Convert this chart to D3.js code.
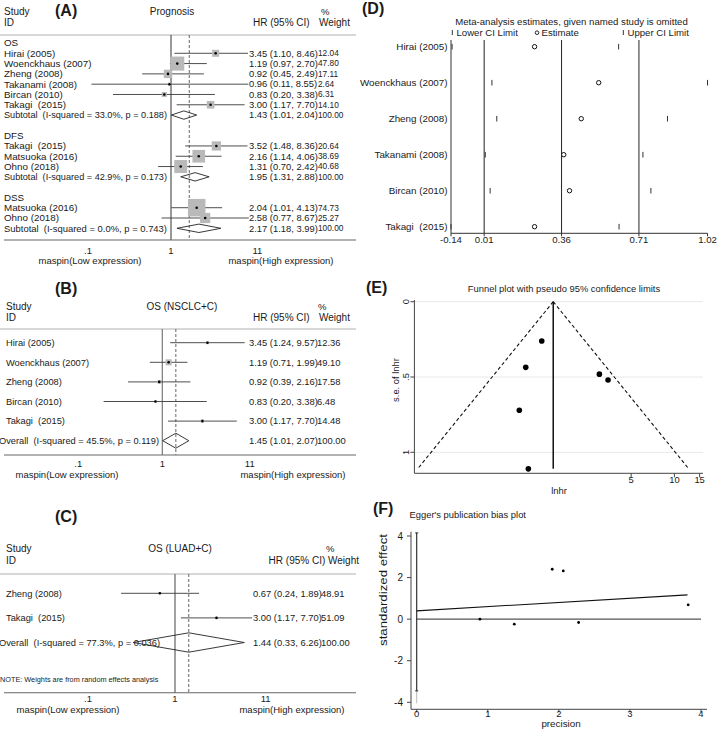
<!DOCTYPE html>
<html><head><meta charset="utf-8">
<script src="https://cdn.jsdelivr.net/npm/d3@7"></script>
<style>
body{margin:0;background:#fff}
svg text{font-family:"Liberation Sans",Arial,Helvetica,sans-serif;fill:#1a1a1a;white-space:pre}
</style></head><body>
<svg id="chart" width="720" height="729"></svg>
<script>
// ---------- Panel A data (Prognosis) ----------
const aLabels = ["OS","Hirai (2005)","Woenckhaus (2007)","Zheng (2008)","Takanami (2008)","Bircan (2010)","Takagi  (2015)","Subtotal  (I-squared = 33.0%, p = 0.188)","","DFS","Takagi  (2015)","Matsuoka (2016)","Ohno (2018)","Subtotal  (I-squared = 42.9%, p = 0.173)","","DSS","Matsuoka (2016)","Ohno (2018)","Subtotal  (I-squared = 0.0%, p = 0.743)"];
const aTypes  = ["group","study","study","study","study","study","study","sub","blank","group","study","study","study","sub","blank","group","study","study","sub"];
const aHR     = [null,3.45,1.19,0.92,0.96,0.83,3.00,1.43,null,null,3.52,2.16,1.31,1.95,null,null,2.04,2.58,2.17];
const aLo     = [null,1.10,0.97,0.45,0.11,0.20,1.17,1.01,null,null,1.48,1.14,0.70,1.31,null,null,1.01,0.77,1.18];
const aHi     = [null,8.46,2.70,2.49,8.55,3.38,7.70,2.04,null,null,8.36,4.06,2.42,2.88,null,null,4.13,8.67,3.99];
const aWeight = [null,12.04,47.80,17.11,2.64,6.31,14.10,100.00,null,null,20.64,38.69,40.68,100.00,null,null,74.73,25.27,100.00];
const aOverall = 1.66;

// ---------- Panel B data (OS NSCLC+C) ----------
const bLabels = ["Hirai (2005)","Woenckhaus (2007)","Zheng (2008)","Bircan (2010)","Takagi  (2015)","Overall  (I-squared = 45.5%, p = 0.119)"];
const bTypes  = ["study","study","study","study","study","sub"];
const bHR     = [3.45,1.19,0.92,0.83,3.00,1.45];
const bLo     = [1.24,0.71,0.39,0.20,1.17,1.01];
const bHi     = [9.57,1.99,2.16,3.38,7.70,2.07];
const bWeight = [12.36,49.10,17.58,6.48,14.48,100.00];

// ---------- Panel C data (OS LUAD+C) ----------
const cLabels = ["Zheng (2008)","Takagi  (2015)","Overall  (I-squared = 77.3%, p = 0.036)"];
const cTypes  = ["study","study","sub"];
const cHR     = [0.67,3.00,1.44];
const cLo     = [0.24,1.17,0.33];
const cHi     = [1.89,7.70,6.26];
const cWeight = [48.91,51.09,100.00];

const forestTicks = [0.1, 1, 11];
const forestTickLabels = [".1", "1", "11"];

// ---------- Panel D data (influence analysis) ----------
const dLabels = ["Hirai (2005)","Woenckhaus (2007)","Zheng (2008)","Takanami (2008)","Bircan (2010)","Takagi  (2015)"];
const dEst = [0.238,0.528,0.449,0.370,0.396,0.238];
const dLo  = [-0.135,0.045,0.067,0.015,0.037,-0.14];
const dHi  = [0.618,1.02,0.839,0.728,0.764,0.620];
const dTicks = [-0.14,0.01,0.36,0.71,1.02];
const dRefLines = [0.01,0.36,0.71];

// ---------- Panel E data (funnel) ----------
const eLnhr = [1.238,0.174,-0.083,-0.041,-0.186,1.099];
const eSe   = [0.520,0.261,0.436,1.110,0.721,0.481];
const ePooled = 0.358;
const eSeMax = 1.11;
const eFunnelEnds = [-1.818, 2.534];
const eYTicks = [0, 0.5, 1];
const eYTickLabels = ["0", ".5", "1"];
const eXTicks = [1.609, 2.303, 2.708];
const eXTickLabels = ["5", "10", "15"];

// ---------- Panel F data (Egger) ----------
const fPrecision = [0.89,1.373,1.907,2.062,2.278,3.82];
const fEffect    = [0.0,-0.24,2.40,2.32,-0.16,0.69];
const fRegLine   = [[0,0.40],[3.81,1.17]];
const fInterceptCI = [-3.45, 4.15];
const fXTicks = [0,1,2,3,4];
const fYTicks = [-4,-2,0,2,4];

const svg = d3.select("#chart");

function txt(g, x, y, s, size, opts = {}) {
  const t = g.append("text").attr("x", x).attr("y", y).text(s)
    .style("font-size", size + "px");
  if (opts.anchor) t.attr("text-anchor", opts.anchor);
  if (opts.bold) t.style("font-weight", "bold");
  if (opts.dy) t.attr("dy", opts.dy);
  if (opts.fill) t.style("fill", opts.fill);
  if (opts.fit) {
    const w = t.node().getComputedTextLength();
    if (w > opts.fit) t.attr("textLength", opts.fit).attr("lengthAdjust", "spacingAndGlyphs");
  }
  return t;
}

function forest(o) {
  const g = svg.append("g");
  const x = d3.scaleLog().domain([0.1, 10]).range(o.xRange);
  const y = d3.scaleLinear().domain([0, o.labels.length - 1]).range(o.yRange);
  txt(g, 55, o.tagY, o.tag, 16, {bold: true});
  txt(g, o.labelX0, o.h1, "Study", 10);
  txt(g, o.labelX0, o.h2, "ID", 10);
  txt(g, o.titleX, o.h1, o.title, 10, {anchor: "middle"});
  txt(g, o.pctX, o.h1, "%", 9.5);
  if (o.hrHeaderEnd) {
    txt(g, o.hrHeaderEnd, o.h2, "HR (95% CI) Weight", 10, {anchor: "end"});
  } else {
    txt(g, 253, o.h2, "HR (95% CI)", 10);
    txt(g, 319, o.h2, "Weight", 10);
  }
  g.append("line").attr("x1", 0).attr("x2", 356).attr("y1", o.ruleY).attr("y2", o.ruleY)
    .attr("stroke", "#b0b0b0").attr("stroke-width", 1);
  g.append("line").attr("x1", x(1)).attr("x2", x(1)).attr("y1", o.ruleY).attr("y2", o.axisY)
    .attr("stroke", o.refColor).attr("stroke-width", o.refWidth);
  g.append("line").attr("x1", x(o.overall)).attr("x2", x(o.overall)).attr("y1", o.ruleY).attr("y2", o.axisY)
    .attr("stroke", "#666").attr("stroke-width", 1).attr("stroke-dasharray", "3,2");
  o.labels.forEach((lab, i) => {
    const t = o.types[i], yy = y(i);
    if (lab) {
      if (t === "sub") txt(g, o.subX !== undefined ? o.subX : o.labelX, yy, lab, o.labelSize, {dy: "0.35em", fit: o.subWidth});
      else txt(g, o.labelX, yy, lab, o.labelSize, {dy: "0.35em"});
    }
    if (t === "study") {
      const s = o.boxK * Math.sqrt(o.w[i]);
      g.append("line").attr("x1", x(o.lo[i])).attr("x2", x(o.hi[i])).attr("y1", yy).attr("y2", yy)
        .attr("stroke", "#3a3a3a").attr("stroke-width", 0.9);
      g.append("rect").attr("x", x(o.hr[i]) - s / 2).attr("y", yy - s / 2).attr("width", s).attr("height", s)
        .attr("fill", "#b9b9b9");
      g.append("circle").attr("cx", x(o.hr[i])).attr("cy", yy).attr("r", 1.3).attr("fill", "#000");
    }
    if (t === "sub") {
      const h = o.diamondH;
      g.append("path").attr("d", `M${x(o.lo[i])},${yy}L${x(o.hr[i])},${yy - h}L${x(o.hi[i])},${yy}L${x(o.hr[i])},${yy + h}Z`)
        .attr("fill", "none").attr("stroke", "#222").attr("stroke-width", 0.9);
    }
    if (t === "study" || t === "sub") {
      txt(g, o.hrX, yy, `${o.hr[i].toFixed(2)} (${o.lo[i].toFixed(2)}, ${o.hi[i].toFixed(2)})`, o.hrSize, {dy: "0.35em"});
      txt(g, o.wX, yy, o.w[i].toFixed(2), o.wSize, {dy: "0.35em"});
    }
  });
  if (o.note) txt(g, 0, o.noteY, o.note, 7.3);
  g.append("line").attr("x1", 4).attr("x2", 356).attr("y1", o.axisY).attr("y2", o.axisY)
    .attr("stroke", "#666").attr("stroke-width", 1.1);
  forestTicks.forEach((v, k) => txt(g, x(v), o.tickY, forestTickLabels[k], 9.5, {anchor: "middle"}));
  txt(g, o.lowX, o.axTitleY, "maspin(Low expression)", 9.5, {anchor: "middle"});
  txt(g, o.highX, o.axTitleY, "maspin(High expression)", 9.5, {anchor: "middle"});
}

// Panel A
forest({tag: "(A)", tagY: 16, title: "Prognosis", titleX: 172, h1: 15, h2: 25.5, pctX: 321,
  ruleY: 35, axisY: 240, xRange: [88, 254], yRange: [43, 228.3],
  labels: aLabels, types: aTypes, hr: aHR, lo: aLo, hi: aHi, w: aWeight, overall: aOverall,
  labelX: 4, labelX0: 4, labelSize: 9.8, subWidth: 163, hrX: 249, hrSize: 9.4, wX: 318, wSize: 8.3,
  boxK: 2.03, diamondH: 4.2, refColor: "#333", refWidth: 1,
  tickY: 253.5, axTitleY: 264, lowX: 90, highX: 281});

// Panel B
forest({tag: "(B)", tagY: 294, title: "OS (NSCLC+C)", titleX: 182, h1: 309.5, h2: 321, pctX: 318,
  ruleY: 329, axisY: 455, xRange: [78.3, 246.3], yRange: [342.7, 440.7],
  labels: bLabels, types: bTypes, hr: bHR, lo: bLo, hi: bHi, w: bWeight, overall: 1.45,
  labelX: 6, labelX0: 6, subX: -1, subWidth: 160, labelSize: 9.3, hrX: 249, hrSize: 9.4, wX: 317, wSize: 9.4,
  boxK: 0.86, diamondH: 7.5, refColor: "#777", refWidth: 1.2,
  tickY: 466.5, axTitleY: 477.5, lowX: 67, highX: 293});

// Panel C
forest({tag: "(C)", tagY: 522, title: "OS (LUAD+C)", titleX: 180, h1: 551.5, h2: 563.5, pctX: 326,
  hrHeaderEnd: 359,
  ruleY: 574, axisY: 692.7, xRange: [88, 262], yRange: [593.3, 642.5],
  labels: cLabels, types: cTypes, hr: cHR, lo: cLo, hi: cHi, w: cWeight, overall: 1.44,
  labelX: 6, labelX0: 6, subX: -1, subWidth: 161, labelSize: 9.3, hrX: 253, hrSize: 9.4, wX: 321, wSize: 9.4,
  boxK: 0.3, diamondH: 9.7, refColor: "#8a8a8a", refWidth: 1.6,
  note: "NOTE: Weights are from random effects analysis", noteY: 681.5,
  tickY: 702, axTitleY: 712.5, lowX: 68, highX: 292});

// ---------- Panel D ----------
(function () {
  const g = svg.append("g");
  const x = d3.scaleLinear().domain([-0.14, 1.02]).range([451, 707.5]);
  const y = d3.scaleLinear().domain([0, dLabels.length - 1]).range([46.7, 226.7]);
  const top = 40, bottom = 233.3;
  txt(g, 362, 14, "(D)", 16, {bold: true});
  txt(g, 571.5, 25, "Meta-analysis estimates, given named study is omitted", 9.6, {anchor: "middle"});
  g.append("line").attr("x1", 452.3).attr("x2", 452.3).attr("y1", 30).attr("y2", 35).attr("stroke", "#333");
  txt(g, 456.5, 35.5, "Lower CI Limit", 9.6);
  g.append("circle").attr("cx", 537).attr("cy", 32.7).attr("r", 1.8).attr("fill", "none").attr("stroke", "#111").attr("stroke-width", 0.9);
  txt(g, 541.5, 35.5, "Estimate", 9.6);
  g.append("line").attr("x1", 623.3).attr("x2", 623.3).attr("y1", 30).attr("y2", 35).attr("stroke", "#333");
  txt(g, 627.5, 35.5, "Upper CI Limit", 9.6);
  g.append("line").attr("x1", x(-0.14)).attr("x2", x(-0.14)).attr("y1", top).attr("y2", bottom).attr("stroke", "#333").attr("stroke-width", 1);
  dRefLines.forEach(v => g.append("line").attr("x1", x(v)).attr("x2", x(v)).attr("y1", top).attr("y2", bottom)
    .attr("stroke", "#222").attr("stroke-width", 1));
  g.append("line").attr("x1", x(-0.14)).attr("x2", x(1.02)).attr("y1", bottom).attr("y2", bottom).attr("stroke", "#333");
  dTicks.forEach(v => {
    g.append("line").attr("x1", x(v)).attr("x2", x(v)).attr("y1", bottom).attr("y2", bottom + 3).attr("stroke", "#333");
    txt(g, x(v), 243, v.toFixed(2), 9.6, {anchor: "middle"});
  });
  dLabels.forEach((lab, i) => {
    const yy = y(i);
    txt(g, 447.5, yy, lab, 9.8, {anchor: "end", dy: "0.35em"});
    [dLo[i], dHi[i]].forEach(v => g.append("line").attr("x1", x(v)).attr("x2", x(v)).attr("y1", yy - 2.8).attr("y2", yy + 2.8)
      .attr("stroke", "#333").attr("stroke-width", 1));
    g.append("circle").attr("cx", x(dEst[i])).attr("cy", yy).attr("r", 2.2).attr("fill", "#fff").attr("stroke", "#111").attr("stroke-width", 1);
  });
})();

// ---------- Panel E ----------
(function () {
  const g = svg.append("g");
  const x = d3.scaleLinear().domain([-1.87, 2.77]).range([414.4, 703.5]);
  const y = d3.scaleLinear().domain([0, 1]).range([301.7, 452.3]);
  const axY = 473.3, axX = 414.4;
  txt(g, 366, 293, "(E)", 16, {bold: true});
  txt(g, 564, 291.5, "Funnel plot with pseudo 95% confidence limits", 9.4, {anchor: "middle"});
  eYTicks.forEach((v, k) => {
    g.append("line").attr("x1", axX).attr("x2", 703).attr("y1", y(v)).attr("y2", y(v)).attr("stroke", "#e8e8e8").attr("stroke-width", 1);
    g.append("line").attr("x1", axX - 4).attr("x2", axX).attr("y1", y(v)).attr("y2", y(v)).attr("stroke", "#444");
    g.append("text").attr("transform", `translate(408.5,${y(v)}) rotate(-90)`).attr("text-anchor", "middle")
      .style("font-size", "9.4px").text(eYTickLabels[k]);
  });
  g.append("text").attr("transform", `translate(399,380) rotate(-90)`).attr("text-anchor", "middle")
    .style("font-size", "9.4px").text("s.e. of lnhr");
  g.append("line").attr("x1", axX).attr("x2", axX).attr("y1", 300).attr("y2", axY).attr("stroke", "#444");
  g.append("line").attr("x1", axX).attr("x2", 703).attr("y1", axY).attr("y2", axY).attr("stroke", "#444");
  eXTicks.forEach((v, k) => {
    g.append("line").attr("x1", x(v)).attr("x2", x(v)).attr("y1", axY).attr("y2", axY + 4).attr("stroke", "#444");
    txt(g, x(v), 482.5, eXTickLabels[k], 9.4, {anchor: "middle"});
  });
  txt(g, 559, 494, "lnhr", 9.4, {anchor: "middle"});
  eFunnelEnds.forEach(v => g.append("line").attr("x1", x(ePooled)).attr("y1", y(0)).attr("x2", x(v)).attr("y2", y(eSeMax))
    .attr("stroke", "#111").attr("stroke-width", 1.1).attr("stroke-dasharray", "3.5,2.5"));
  g.append("line").attr("x1", x(ePooled)).attr("x2", x(ePooled)).attr("y1", y(0)).attr("y2", y(eSeMax))
    .attr("stroke", "#000").attr("stroke-width", 1.4);
  eLnhr.forEach((v, i) => g.append("circle").attr("cx", x(v)).attr("cy", y(eSe[i])).attr("r", 2.8).attr("fill", "#000"));
})();

// ---------- Panel F ----------
(function () {
  const g = svg.append("g");
  const x = d3.scaleLinear().domain([0, 4]).range([416.7, 701]);
  const y = d3.scaleLinear().domain([-4, 4]).range([702.3, 536]);
  const axX = 411, axY = 709.3;
  txt(g, 373, 514, "(F)", 16, {bold: true});
  txt(g, 409.5, 518, "Egger's publication bias plot", 9.4);
  g.append("line").attr("x1", axX).attr("x2", axX).attr("y1", 531.7).attr("y2", axY).attr("stroke", "#555").attr("stroke-width", 1.1);
  g.append("line").attr("x1", axX).attr("x2", 707).attr("y1", axY).attr("y2", axY).attr("stroke", "#444").attr("stroke-width", 1);
  fYTicks.forEach(v => {
    g.append("line").attr("x1", axX - 4).attr("x2", axX).attr("y1", y(v)).attr("y2", y(v)).attr("stroke", "#444");
    txt(g, 403, y(v), String(v), 10, {anchor: "end", dy: "0.35em"});
  });
  fXTicks.forEach(v => {
    g.append("line").attr("x1", x(v)).attr("x2", x(v)).attr("y1", axY).attr("y2", axY + 3).attr("stroke", "#444");
    txt(g, x(v), 716.5, String(v), 9.5, {anchor: "middle"});
  });
  txt(g, 561, 727, "precision", 9.8, {anchor: "middle"});
  g.append("text").attr("transform", `translate(386.5,590) rotate(-90)`).attr("text-anchor", "middle")
    .attr("textLength", 112).attr("lengthAdjust", "spacingAndGlyphs")
    .style("font-size", "10.5px").text("standardized effect");
  g.append("line").attr("x1", x(0)).attr("x2", x(4)).attr("y1", y(0)).attr("y2", y(0)).attr("stroke", "#555").attr("stroke-width", 1.1);
  g.append("line").attr("x1", x(0)).attr("x2", x(0)).attr("y1", y(fInterceptCI[0])).attr("y2", y(-4.05)).attr("stroke", "#bbb").attr("stroke-width", 1);
  g.append("line").attr("x1", x(0)).attr("x2", x(0)).attr("y1", y(fInterceptCI[1])).attr("y2", y(fInterceptCI[0])).attr("stroke", "#222").attr("stroke-width", 1.1);
  fInterceptCI.forEach(v => g.append("line").attr("x1", x(0) - 1.5).attr("x2", x(0) + 1.5).attr("y1", y(v)).attr("y2", y(v)).attr("stroke", "#222"));
  g.append("path").attr("d", d3.line().x(d => x(d[0])).y(d => y(d[1]))(fRegLine)).attr("stroke", "#111").attr("stroke-width", 1.1).attr("fill", "none");
  fPrecision.forEach((v, i) => g.append("circle").attr("cx", x(v)).attr("cy", y(fEffect[i])).attr("r", 1.4).attr("fill", "#000"));
})();
</script>
</body></html>
